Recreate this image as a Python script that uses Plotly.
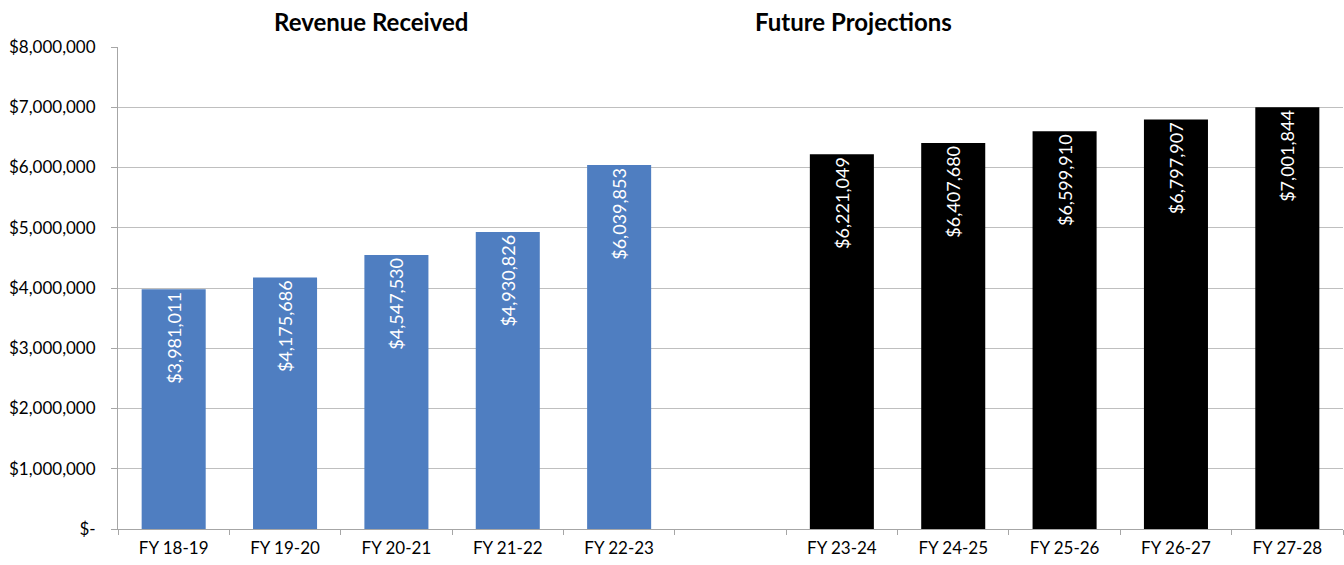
import plotly.graph_objects as go

received_categories = ["FY 18-19", "FY 19-20", "FY 20-21", "FY 21-22", "FY 22-23"]
received_values = [3981011, 4175686, 4547530, 4930826, 6039853]
projection_categories = ["FY 23-24", "FY 24-25", "FY 25-26", "FY 26-27", "FY 27-28"]
projection_values = [6221049, 6407680, 6599910, 6797907, 7001844]
spacer_category = " "
y_tick_values = [0, 1000000, 2000000, 3000000, 4000000, 5000000, 6000000, 7000000, 8000000]
y_tick_labels = ["$-", "$1,000,000", "$2,000,000", "$3,000,000", "$4,000,000",
                 "$5,000,000", "$6,000,000", "$7,000,000", "$8,000,000"]
titles = ["Revenue Received", "Future Projections"]

FONT = "Lato, Calibri, Carlito, sans-serif"

fig = go.Figure()
fig.add_trace(go.Bar(
    x=received_categories, y=received_values, width=0.575,
    marker=dict(color="#4f7ec1", line=dict(width=0)),
    texttemplate="$%{y:,.0f}", textposition="inside", insidetextanchor="end",
    textangle=-90, textfont=dict(color="white", size=18, family=FONT),
    hoverinfo="x+y", showlegend=False,
))
fig.add_trace(go.Bar(
    x=projection_categories, y=projection_values, width=0.575,
    marker=dict(color="#000000", line=dict(width=0)),
    texttemplate="$%{y:,.0f}", textposition="inside", insidetextanchor="end",
    textangle=-90, textfont=dict(color="white", size=18, family=FONT),
    hoverinfo="x+y", showlegend=False,
))

fig.update_layout(
    width=1344, height=565,
    margin=dict(l=118, r=1, t=47, b=36),
    paper_bgcolor="white", plot_bgcolor="white",
    barmode="overlay",
    font=dict(family=FONT, size=17, color="#000000"),
)
fig.update_xaxes(
    type="category",
    categoryorder="array",
    categoryarray=received_categories + [spacer_category] + projection_categories,
    tickson="boundaries", ticks="outside", ticklen=5, tickcolor="#a6a6a6",
    showline=True, linecolor="#a6a6a6", linewidth=1,
    showgrid=False, tickfont=dict(size=17, family=FONT),
    ticklabelstandoff=4,
    range=[-0.5, 10.5], fixedrange=True,
)
fig.update_yaxes(
    range=[0, 8000000], tickvals=y_tick_values, ticktext=y_tick_labels,
    showgrid=True, gridcolor="#bfbfbf", gridwidth=1,
    showline=True, linecolor="#a6a6a6", linewidth=1,
    ticks="outside", ticklen=6, tickcolor="#a6a6a6",
    ticklabelstandoff=12,
    tickfont=dict(size=17, family=FONT), zeroline=False, fixedrange=True,
)

title_positions = [0.2064, 0.600]
for t, xp in zip(titles, title_positions):
    fig.add_annotation(
        text="<b>" + t + "</b>", x=xp, y=1.052, xref="paper", yref="paper",
        showarrow=False, xanchor="center", yanchor="middle",
        font=dict(size=24, family=FONT, color="#000000"),
    )

fig.write_html("out.html", config={"displayModeBar": False},
               post_script="document.body.style.margin='0';")
